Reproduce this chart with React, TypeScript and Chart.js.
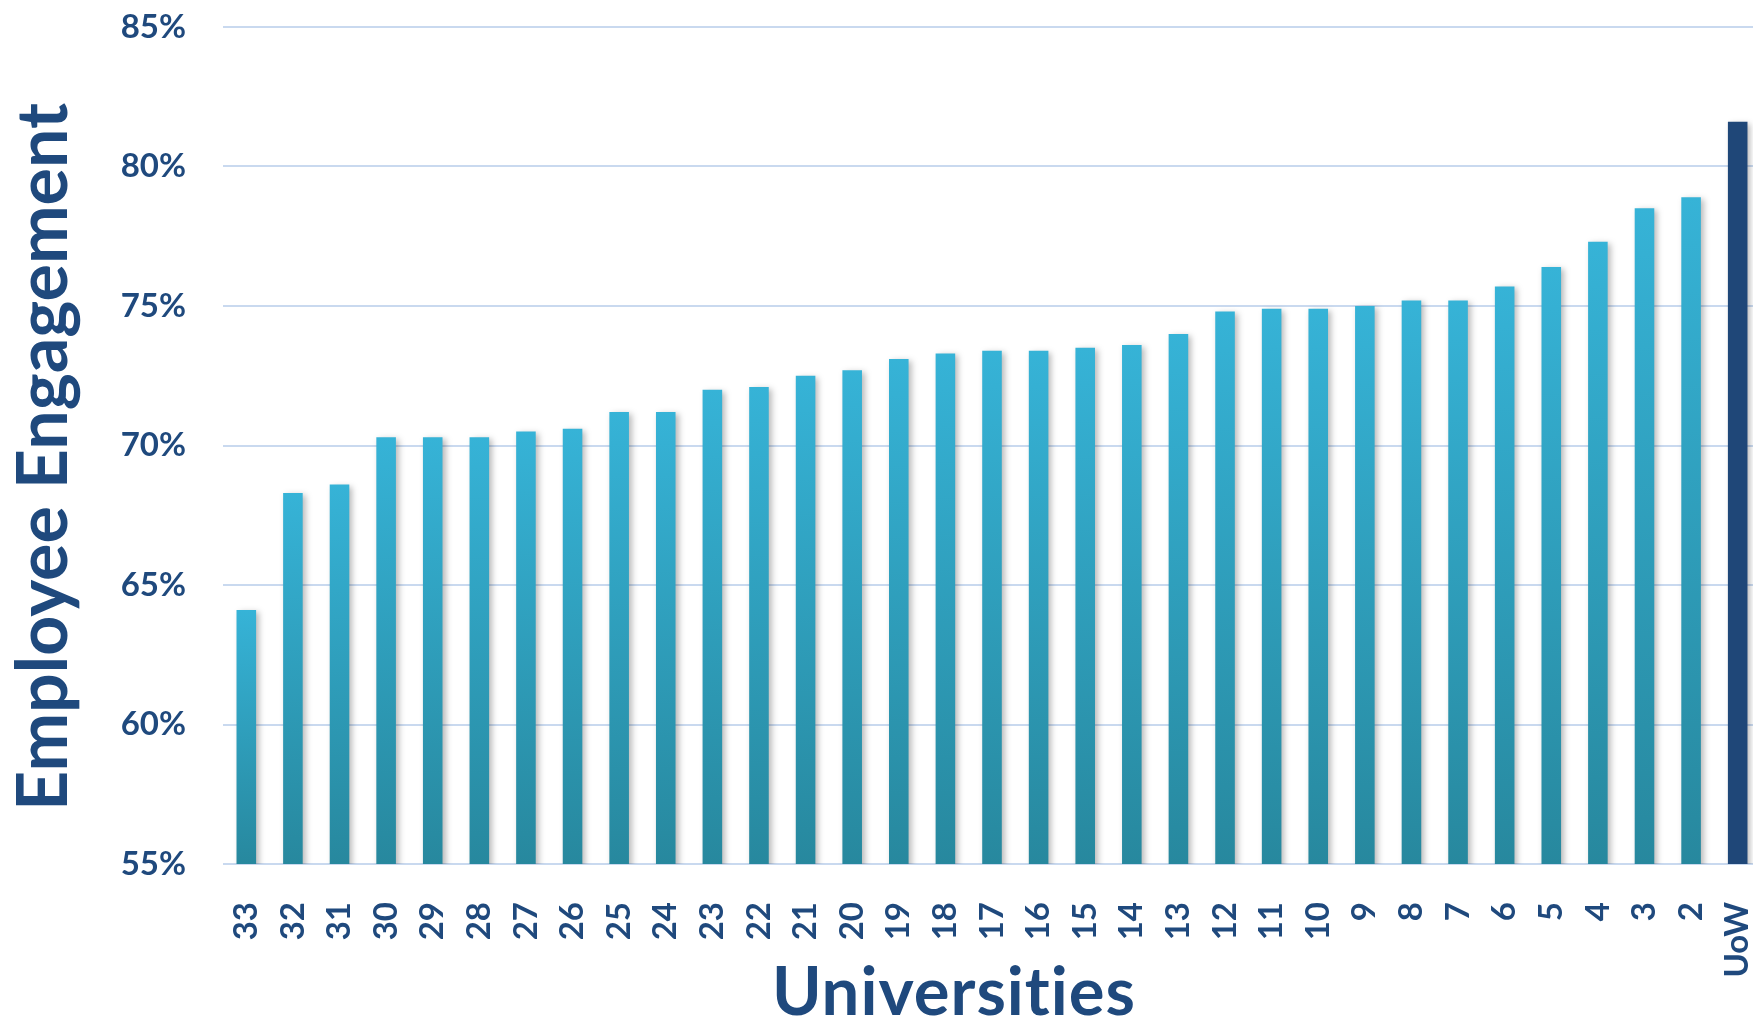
import React, { useEffect, useRef } from 'react';
import { Chart, registerables } from 'chart.js';

Chart.register(...registerables);

const categories = ['33', '32', '31', '30', '29', '28', '27', '26', '25', '24', '23', '22', '21', '20', '19', '18', '17', '16', '15', '14', '13', '12', '11', '10', '9', '8', '7', '6', '5', '4', '3', '2', 'UoW'];
const engagement = [64.1, 68.3, 68.6, 70.3, 70.3, 70.3, 70.5, 70.6, 71.2, 71.2, 72.0, 72.1, 72.5, 72.7, 73.1, 73.3, 73.4, 73.4, 73.5, 73.6, 74.0, 74.8, 74.9, 74.9, 75.0, 75.2, 75.2, 75.7, 76.4, 77.3, 78.5, 78.9, 81.6];
const highlightCategory = 'UoW';
const yMin = 55;
const yMax = 85;
const yStep = 5;
const yTitle = 'Employee Engagement';
const xTitle = 'Universities';

const TEXT = '#1F497D';
const FONT = 'Lato';

const shadowPlugin = {
  id: 'barShadow',
  beforeDatasetsDraw(chart: any) {
    const ctx = chart.ctx;
    ctx.save();
    ctx.shadowColor = 'rgba(0,0,0,0.28)';
    ctx.shadowBlur = 6;
    ctx.shadowOffsetX = 3;
    ctx.shadowOffsetY = 2;
  },
  afterDatasetsDraw(chart: any) {
    chart.ctx.restore();
  },
};

const titlesPlugin = {
  id: 'axisTitles',
  afterDraw(chart: any) {
    const ctx = chart.ctx;
    ctx.save();
    ctx.fillStyle = TEXT;
    ctx.textAlign = 'center';
    ctx.textBaseline = 'alphabetic';
    try { (ctx as any).letterSpacing = '1px'; } catch (e) {}
    ctx.font = `bold 67px ${FONT}`;
    ctx.fillText(xTitle, 954, 1015);
    try { (ctx as any).letterSpacing = '0px'; } catch (e) {}
    ctx.font = `bold 70px ${FONT}`;
    ctx.translate(67, 457);
    ctx.rotate(-Math.PI / 2);
    ctx.fillText(yTitle, 0, 0);
    ctx.restore();
  },
};

export default function App() {
  const ref = useRef<HTMLCanvasElement | null>(null);

  useEffect(() => {
    document.body.style.margin = '0';
    document.body.style.overflow = 'hidden';
    const canvas = ref.current;
    if (!canvas) return;
    const chart = new Chart(canvas, {
      type: 'bar',
      data: {
        labels: categories,
        datasets: [
          {
            data: engagement,
            backgroundColor: (c: any) => {
              const label = categories[c.dataIndex];
              if (label === highlightCategory) return '#1F4778';
              const ch = c.chart;
              const area = ch.chartArea;
              const ys = ch.scales?.y;
              if (!area || !ys || c.raw == null) return '#31A5C6';
              const top = ys.getPixelForValue(c.raw);
              const g = ch.ctx.createLinearGradient(0, top, 0, area.bottom);
              g.addColorStop(0, '#36B3D7');
              g.addColorStop(1, '#27889E');
              return g;
            },
            borderWidth: 0,
            barPercentage: 0.42,
            categoryPercentage: 1,
          },
        ],
      },
      options: {
        animation: false,
        responsive: false,
        devicePixelRatio: 1,
        layout: { padding: { top: 27, right: 0, bottom: 0, left: 0 } },
        plugins: {
          legend: { display: false },
          tooltip: { enabled: false },
        },
        scales: {
          x: {
            grid: { display: false, drawTicks: false },
            border: { display: false },
            ticks: {
              color: TEXT,
              font: { family: FONT, weight: 'bold', size: 33 },
              minRotation: 90,
              maxRotation: 90,
              padding: 38,
              autoSkip: false,
            },
            afterFit: (s: any) => {
              s.height = 1021 - 864;
              s.paddingLeft = 0;
              s.paddingRight = 0;
            },
          },
          y: {
            min: yMin,
            max: yMax,
            grid: { color: '#C9D9EF', lineWidth: 2, drawTicks: false },
            border: { display: false },
            ticks: {
              stepSize: yStep,
              color: TEXT,
              font: { family: FONT, weight: 'bold', size: 33 },
              padding: 37,
              callback: (v: any) => `${v}%`,
            },
            afterFit: (s: any) => {
              s.width = 223;
              s.paddingTop = 0;
              s.paddingBottom = 0;
            },
          },
        },
      },
      plugins: [shadowPlugin, titlesPlugin],
    } as any);
    return () => chart.destroy();
  }, []);

  return (
    <div style={{ width: '100vw', height: '100vh', overflow: 'hidden', background: '#fff' }}>
      <canvas ref={ref} width={1761} height={1021} style={{ display: 'block' }} />
    </div>
  );
}
